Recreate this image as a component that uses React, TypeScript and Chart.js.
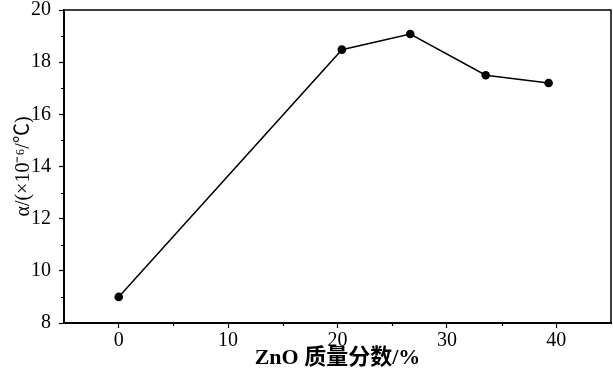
import React, { useEffect, useRef } from "react";
import { Chart, registerables } from "chart.js";

Chart.register(...registerables);

const znoContent: number[] = [0, 20.4, 26.65, 33.55, 39.3];
const alphaValues: number[] = [9.0, 18.48, 19.08, 17.5, 17.2];
const xTickValues: number[] = [0, 10, 20, 30, 40];
const xMinorTicks: number[] = [5, 15, 25, 35];
const yMinorTicks: number[] = [9, 11, 13, 15, 17, 19];
const xTitle = "ZnO 质量分数/%";
const yTitle = "α/(×10⁻⁶/℃)";

const SERIF = "'Liberation Serif', 'Times New Roman', 'Noto Sans CJK SC', serif";

const framePlugin = {
  id: "frameAndMinor",
  afterDraw(chart: any) {
    const { ctx, chartArea, scales } = chart;
    ctx.save();
    ctx.strokeStyle = "#000";
    ctx.lineWidth = 1.5;
    ctx.beginPath();
    ctx.moveTo(chartArea.left, chartArea.top);
    ctx.lineTo(chartArea.right, chartArea.top);
    ctx.lineTo(chartArea.right, chartArea.bottom);
    ctx.stroke();
    ctx.lineWidth = 1.2;
    const xs = scales.x;
    const ys = scales.y;
    ctx.beginPath();
    for (const v of xMinorTicks) {
      const px = Math.round(xs.getPixelForValue(v)) + 0.5;
      ctx.moveTo(px, chartArea.bottom);
      ctx.lineTo(px, chartArea.bottom + 3);
    }
    for (const v of yMinorTicks) {
      const py = Math.round(ys.getPixelForValue(v)) + 0.5;
      ctx.moveTo(chartArea.left, py);
      ctx.lineTo(chartArea.left - 3, py);
    }
    ctx.stroke();
    ctx.restore();
  },
};

export default function App() {
  const canvasRef = useRef<HTMLCanvasElement | null>(null);

  useEffect(() => {
    document.body.style.margin = "0";
    const canvas = canvasRef.current;
    if (!canvas) return;
    const chart = new Chart(canvas, {
      type: "line",
      data: {
        datasets: [
          {
            data: znoContent.map((x, i) => ({ x, y: alphaValues[i] })),
            borderColor: "#000",
            backgroundColor: "#000",
            borderWidth: 1.5,
            pointRadius: 4.3,
            pointBackgroundColor: "#000",
            pointBorderWidth: 0,
            tension: 0,
          },
        ],
      },
      options: {
        animation: false,
        responsive: true,
        maintainAspectRatio: false,
        layout: { autoPadding: false, padding: { top: 10, right: 2, left: 0, bottom: 0 } },
        plugins: {
          legend: { display: false },
          tooltip: { enabled: false },
        },
        scales: {
          x: {
            type: "linear",
            min: -5,
            max: 45,
            afterBuildTicks: (scale: any) => {
              scale.ticks = xTickValues.map((v) => ({ value: v }));
            },
            afterFit: (scale: any) => {
              scale.height = 47;
              scale.paddingLeft = 0;
              scale.paddingRight = 0;
            },
            grid: {
              drawOnChartArea: false,
              drawTicks: true,
              tickLength: 5,
              tickColor: "#000",
              tickWidth: 1.2,
            },
            border: { display: true, color: "#000", width: 2 },
            ticks: {
              color: "#000",
              padding: 1,
              maxRotation: 0,
              font: { family: SERIF, size: 20 },
            },
            title: {
              display: true,
              text: xTitle,
              color: "#000",
              padding: { top: 0, bottom: 0 },
              font: { family: SERIF, size: 22, weight: "bold", lineHeight: 1.1 },
            },
          },
          y: {
            type: "linear",
            min: 8,
            max: 20,
            ticks: {
              stepSize: 2,
              color: "#000",
              padding: 8,
              font: { family: SERIF, size: 20 },
            },
            afterFit: (scale: any) => {
              scale.width = 64;
              scale.paddingTop = 0;
              scale.paddingBottom = 0;
            },
            grid: {
              drawOnChartArea: false,
              drawTicks: true,
              tickLength: 5,
              tickColor: "#000",
              tickWidth: 1.2,
            },
            border: { display: true, color: "#000", width: 2 },
            title: {
              display: true,
              text: yTitle,
              color: "#000",
              padding: { top: 12, bottom: 0 },
              font: { family: SERIF, size: 20, weight: "normal" },
            },
          },
        },
      },
      plugins: [framePlugin],
    } as any);
    return () => chart.destroy();
  }, []);

  return (
    <div style={{ position: "absolute", left: 0, top: 0, width: 613, height: 370 }}>
      <canvas ref={canvasRef} />
    </div>
  );
}
